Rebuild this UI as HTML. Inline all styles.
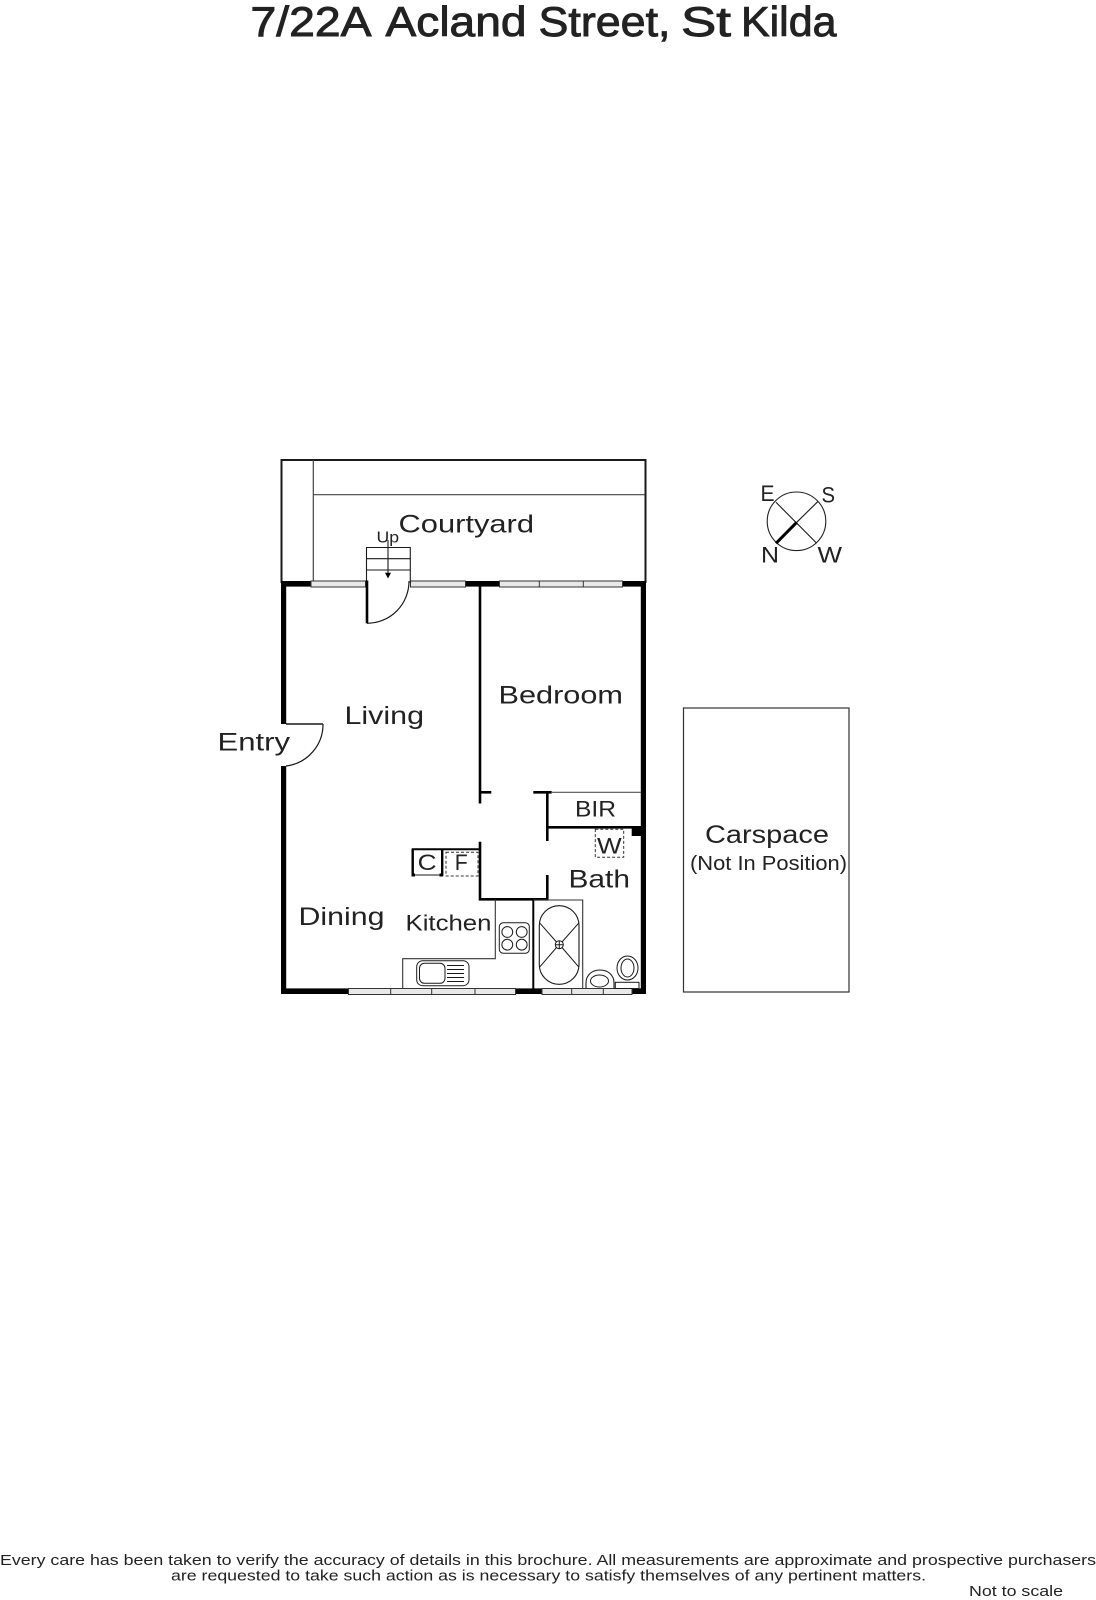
<!DOCTYPE html>
<html><head><meta charset="utf-8"><style>
html,body{margin:0;padding:0;background:#fff}
svg{display:block}
text{font-family:"Liberation Sans",sans-serif;fill:#222}
</style></head><body>
<svg width="1096" height="1600" viewBox="0 0 1096 1600" xmlns="http://www.w3.org/2000/svg">
<rect width="1096" height="1600" fill="#fff"/>
<g stroke="#1a1a1a" fill="none">
<!-- courtyard -->
<path d="M281.5 583V460H645.5V583" stroke-width="2"/>
<path d="M313.3 460V583M313.3 494.7H645" stroke-width="1.2" stroke="#444"/>
<!-- outer walls -->
<g stroke="none" fill="#000">
<rect x="281" y="581" width="30" height="5.6"/>
<rect x="465" y="581" width="35" height="5.6"/>
<rect x="622" y="581" width="24" height="5.6"/>
<rect x="281" y="581" width="5.2" height="143"/>
<rect x="281" y="766" width="5.2" height="228"/>
<rect x="640.8" y="581" width="5.2" height="413"/>
<rect x="281" y="988.4" width="68" height="5.6"/>
<rect x="515" y="988.4" width="27" height="5.6"/>
<rect x="631" y="988.4" width="15" height="5.6"/>
<rect x="631.7" y="826" width="9.5" height="10"/>
</g>
<!-- windows -->
<g fill="#e8e8e8" stroke="#333" stroke-width="1">
<rect x="311" y="581" width="54.5" height="6"/>
<rect x="410.5" y="581" width="55" height="6"/>
<rect x="499.5" y="581" width="123" height="6"/>
<rect x="348.5" y="988.5" width="167" height="6"/>
<rect x="542" y="988.5" width="90" height="6"/>
</g>
<path d="M539.3 581V587M583.3 581V587M390.7 988.5V994.5M431.7 988.5V994.5M475 988.5V994.5M571.7 988.5V994.5M603.3 988.5V994.5" stroke="#333" stroke-width="1"/>
<!-- steps -->
<path d="M366.5 583V547.5H410.3V583M366.5 558.7H410.3M366.5 570H410.3" stroke-width="1.1"/>
<path d="M388 540V574" stroke-width="1.1"/>
<path d="M385 572.7L391 572.7L388 578.5Z" fill="#000" stroke="none"/>
<!-- doors -->
<path d="M367 580.5V623.3" stroke="#000" stroke-width="2.6"/>
<path d="M367 623.3A42 42 0 0 0 409 581" stroke-width="1.2"/>
<path d="M286 724H323" stroke-width="1.6"/>
<path d="M323 724A42 42 0 0 1 286 766" stroke-width="1.2"/>
<!-- interior walls -->
<g stroke="#000" stroke-width="2.6">
<path d="M480 586V803.5"/>
<path d="M480 792.3H491.3"/>
<path d="M533.3 792.3H551.7"/>
<path d="M547.3 792.3V841"/>
<path d="M547 827.3H641"/>
<path d="M480 841.7V899.3H547.3V875"/>
<path d="M533.3 899V989" stroke-width="2"/>
<path d="M411.7 849.3H480" stroke-width="2"/>
<path d="M412.7 849V876M442.2 849V876" stroke-width="2.4"/>
</g>
<path d="M551 792.3H641" stroke="#555" stroke-width="1.1"/>
<path d="M412 875H442.7" stroke-width="1"/>
<rect x="411.5" y="873.5" width="3.5" height="3" fill="#000" stroke="none"/>
<rect x="439.5" y="873.5" width="3.5" height="3" fill="#000" stroke="none"/>
<!-- dashed -->
<rect x="446" y="852.3" width="32" height="23.7" stroke="#333" stroke-width="1" stroke-dasharray="3 2"/>
<rect x="595.3" y="829.3" width="28.4" height="28" stroke="#333" stroke-width="1" stroke-dasharray="3 2"/>
<!-- kitchen -->
<path d="M495.3 899.5V958.7H402.7V988.5" stroke="#333" stroke-width="1.1"/>
<rect x="499.3" y="922.7" width="30" height="30.6" rx="4" stroke-width="1"/>
<g stroke-width="1"><circle cx="507.3" cy="932" r="5.4"/><circle cx="521.7" cy="932" r="5.4"/><circle cx="507.3" cy="944.7" r="5.4"/><circle cx="521.7" cy="944.7" r="5.4"/></g>
<rect x="416.7" y="960.7" width="52.3" height="25" rx="6" stroke-width="1"/>
<rect x="419.5" y="963.3" width="25.5" height="20" rx="5" stroke-width="1"/>
<path d="M447 965.5H464M447 969.5H464M447 973.5H464M447 977.5H464M447 981.5H464" stroke-width="1"/>
<!-- bath -->
<path d="M533.3 900H582.7V988.5" stroke="#333" stroke-width="1.1"/>
<rect x="539.3" y="905.7" width="39.7" height="78.6" rx="19.8" stroke-width="1.1"/>
<circle cx="559.3" cy="944.7" r="4" stroke-width="1"/>
<path d="M555.3 944.7H563.3M559.3 940.7V948.7M540 923.3L556.5 942M578.5 923.3L562 942M540 966.7L556.5 947.5M578.5 966.7L562 947.5" stroke-width="1"/>
<path d="M586 988.5V983C586 975 592 970 600 970S614 975 614 983V988.5" stroke-width="1.1"/>
<ellipse cx="599.5" cy="981" rx="9" ry="6" stroke-width="1"/>
<ellipse cx="627.5" cy="968" rx="10.5" ry="12" stroke-width="1"/>
<ellipse cx="627.5" cy="968" rx="6.5" ry="9" stroke-width="1"/>
<rect x="615.3" y="982.3" width="23.7" height="6.2" stroke-width="1"/>
<!-- compass -->
<circle cx="796.5" cy="521.3" r="29.3" stroke="#222" stroke-width="1.1"/>
<path d="M776 502.3L816.7 543.3M817.7 501.7L796.7 522.3" stroke-width="1.1"/>
<path d="M796.7 522.3L776 543.3" stroke="#000" stroke-width="3"/>
<!-- carspace -->
<rect x="683.5" y="708" width="165.5" height="284" stroke="#333" stroke-width="1.2"/>
</g>
<g font-size="42" stroke="#222" stroke-width="0.9">
<text x="250.5" y="36" textLength="121" lengthAdjust="spacingAndGlyphs">7/22A</text>
<text x="385.5" y="36" textLength="141" lengthAdjust="spacingAndGlyphs">Acland</text>
<text x="538.5" y="36" textLength="132" lengthAdjust="spacingAndGlyphs">Street,</text>
<text x="681" y="36" textLength="50" lengthAdjust="spacingAndGlyphs">St</text>
<text x="741" y="36" textLength="95.5" lengthAdjust="spacingAndGlyphs">Kilda</text>
</g>
<g font-size="25">
<text x="398.5" y="532.7" textLength="135.5" lengthAdjust="spacingAndGlyphs">Courtyard</text>
<text x="498.5" y="703.3" textLength="124.5" lengthAdjust="spacingAndGlyphs">Bedroom</text>
<text x="344.5" y="724" textLength="79.5" lengthAdjust="spacingAndGlyphs">Living</text>
<text x="217.5" y="750.5" textLength="72.5" lengthAdjust="spacingAndGlyphs">Entry</text>
<text x="298.5" y="925" textLength="86" lengthAdjust="spacingAndGlyphs">Dining</text>
<text x="568.5" y="887.3" textLength="61.5" lengthAdjust="spacingAndGlyphs">Bath</text>
<text x="705" y="843" textLength="124" lengthAdjust="spacingAndGlyphs">Carspace</text>
</g>
<g font-size="22">
<text x="405.5" y="930.7" textLength="86" lengthAdjust="spacingAndGlyphs">Kitchen</text>
<text x="575" y="816.7" textLength="41" lengthAdjust="spacingAndGlyphs">BIR</text>
<text x="597" y="853.3" textLength="24.7" lengthAdjust="spacingAndGlyphs">W</text>
<text x="417.7" y="870" textLength="19" lengthAdjust="spacingAndGlyphs">C</text>
<text x="454.7" y="870" textLength="13" lengthAdjust="spacingAndGlyphs">F</text>
<text x="760.5" y="501" textLength="14" lengthAdjust="spacingAndGlyphs">E</text>
<text x="821.5" y="502.7" textLength="13.5" lengthAdjust="spacingAndGlyphs">S</text>
<text x="761" y="562.3" textLength="18" lengthAdjust="spacingAndGlyphs">N</text>
<text x="817.5" y="562.3" textLength="24.5" lengthAdjust="spacingAndGlyphs">W</text>
</g>
<text x="690" y="870" font-size="20" textLength="157" lengthAdjust="spacingAndGlyphs">(Not In Position)</text>
<text x="376.5" y="542.5" font-size="16" textLength="22.5" lengthAdjust="spacingAndGlyphs">Up</text>
<g font-size="15">
<text x="0" y="1565" textLength="1096" lengthAdjust="spacingAndGlyphs">Every care has been taken to verify the accuracy of details in this brochure.  All measurements are approximate and prospective purchasers</text>
<text x="171" y="1580.5" textLength="755" lengthAdjust="spacingAndGlyphs">are requested to take such action as is necessary to satisfy themselves of any pertinent matters.</text>
<text x="969" y="1596" textLength="94" lengthAdjust="spacingAndGlyphs">Not to scale</text>
</g>
</svg>
</body></html>
